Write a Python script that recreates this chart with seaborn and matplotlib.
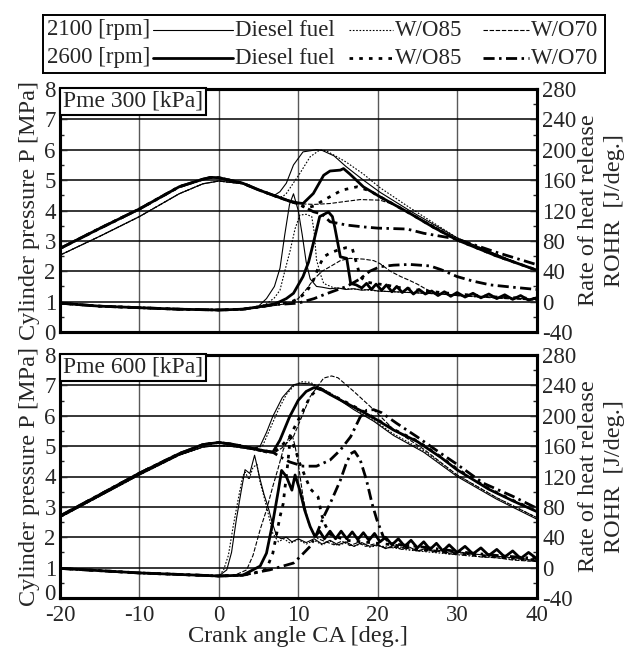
import matplotlib
matplotlib.use('Agg')
import matplotlib.pyplot as plt
import matplotlib.transforms as mtransforms
import seaborn as sns
from matplotlib.ticker import MultipleLocator

# ---------------- data ----------------
# Pme 300 kPa : cylinder pressure [MPa]
mot21_300_ca = [-20, -15, -10, -5, -2, 0, 3, 5, 7]
mot21_300_p = [2.53, 3.15, 3.80, 4.55, 4.88, 4.97, 4.88, 4.68, 4.50]
mot26_300_ca = [-20, -15, -10, -5, -2, -1, 0, 3, 5, 7.7, 9]
mot26_300_p = [2.75, 3.41, 4.05, 4.78, 5.03, 5.09, 5.08, 4.90, 4.68, 4.42, 4.30]

p21d_300_ca = [7.7, 8.5, 9.4, 10.6, 12.3, 13.0, 14.5, 16, 18.2, 20.3, 24, 27, 30, 35, 40]
p21d_300 = [4.62, 4.90, 5.50, 5.93, 6.00, 5.98, 5.80, 5.45, 5.00, 4.60, 4.00, 3.55, 3.10, 2.55, 2.00]
p21w85_300_ca = [8.0, 8.5, 10.2, 11.5, 12.7, 13.5, 16, 18.2, 20.3, 24, 27, 30, 35, 40]
p21w85_300 = [4.45, 4.56, 5.22, 5.77, 5.99, 5.97, 5.60, 5.20, 4.75, 4.10, 3.60, 3.10, 2.55, 2.02]
p21w70_300_ca = [8.5, 10.3, 12, 14, 16, 17.8, 20.3, 22, 23.7, 27, 30, 35, 40]
p21w70_300 = [4.35, 4.22, 4.20, 4.23, 4.30, 4.36, 4.34, 4.20, 3.96, 3.50, 3.05, 2.55, 2.02]

p26d_300_ca = [10, 10.6, 11.9, 13.2, 14.0, 15.3, 15.7, 16.5, 18.2, 20.3, 24.1, 27, 30, 35, 40]
p26d_300 = [4.25, 4.23, 4.56, 5.16, 5.30, 5.33, 5.38, 5.20, 4.78, 4.45, 3.90, 3.45, 3.03, 2.50, 2.04]
p26w85_300_ca = [10, 11, 12, 13.2, 15.5, 17.4, 19, 20.3, 24.1, 27, 30, 35, 40]
p26w85_300 = [4.22, 4.08, 4.15, 4.34, 4.67, 4.78, 4.65, 4.45, 3.90, 3.45, 3.03, 2.50, 2.04]
p26w70_300_ca = [10, 11.9, 13, 14, 16.1, 18.2, 20, 23.7, 25.8, 28, 30, 35, 40]
p26w70_300 = [4.22, 3.96, 3.88, 3.63, 3.52, 3.46, 3.42, 3.39, 3.25, 3.15, 3.06, 2.62, 2.22]

# Pme 300 kPa : ROHR [J/deg.]
r21d_300_ca = [-20, -15, -10, -5, 0, 3, 5, 6, 7, 7.7, 8.3, 8.9, 9.4, 10.0, 10.5, 11.0, 11.5, 12.3, 13, 14,
               15, 16, 17, 18, 19, 20, 22, 24, 26, 28, 30, 33, 36, 40]
r21d_300 = [-2, -6, -8, -10, -11, -10, -6, 4, 20, 44, 88, 128, 142, 120, 88, 52, 30, 20, 19, 17,
            18, 16, 17, 15, 16, 14, 13, 12, 11, 10, 8, 7, 5, 3]
r21w85_300_ca = [-20, -15, -10, -5, 0, 3, 5, 6, 7, 7.7, 8.3, 9.0, 9.6, 10.2, 11.0, 11.7, 12.0, 12.3, 12.8,
                 13.2, 14.5, 16, 18, 20, 22, 24, 26, 28, 30, 33, 36, 40]
r21w85_300 = [-2, -6, -8, -10, -11, -10, -7, -3, 5, 15, 40, 68, 96, 114, 115, 112, 92, 55, 36,
              24, 18, 17, 16, 14, 13, 12, 11, 10, 8, 6, 5, 3]
r21w70_300_ca = [-20, -15, -10, -5, 0, 3, 5, 7, 9, 10, 11, 12, 13, 14, 15.3, 16.5, 18.2, 19.5, 20.3, 21.6,
                 22.9, 24, 25, 26, 27, 28, 30, 33, 36, 40]
r21w70_300 = [-2, -6, -8, -10, -11, -10, -8, -5, -2, 4, 16, 30, 40, 46, 54, 57, 56, 54, 50, 40,
              33, 28, 23, 17, 12, 10, 8, 6, 4, 2]
r26d_300_ca = [-20, -15, -10, -5, 0, 3, 5, 7, 7.7, 8.5, 9.4, 10.6, 11.3, 11.9, 12.7, 13.8, 14.3, 14.6, 15.0,
               15.3, 16.1, 16.6, 17.3, 18, 18.6, 19.2, 19.8, 20.5, 21.1, 21.8, 22.4, 23.1, 23.8, 24.5,
               25.2, 26, 26.8, 27.6, 28.4, 29.2, 30, 31, 32, 33, 34, 35, 36, 37, 38, 39, 40]
r26d_300 = [-2, -6, -8, -10, -11, -10, -7, -3, 0, 4, 11, 33, 52, 77, 112, 118, 112, 98, 76,
            59, 57, 24, 22, 18, 24, 16, 23, 15, 22, 13, 20, 12, 18, 10,
            16, 10, 14, 8, 13, 7, 12, 6, 11, 5, 10, 4, 9, 3, 8, 2, 5]
r26w85_300_ca = [-20, -15, -10, -5, 0, 3, 5, 7, 9, 10, 11, 11.9, 12.5, 13.2, 14, 15, 16, 16.8, 17.3,
                 17.8, 18.5, 19.5, 21, 23, 26, 30, 35, 40]
r26w85_300 = [-2, -6, -8, -10, -11, -10, -7, -4, -1, 4, 12, 28, 44, 59, 64, 68, 71, 70, 52,
              33, 26, 24, 22, 18, 14, 10, 6, 4]
r26w70_300_ca = [-20, -15, -10, -5, 0, 3, 5, 7, 10, 12, 13.2, 14.5, 16.1, 17.8, 19, 20.3, 22, 24, 26.6,
                 28, 30, 32, 34.2, 37, 40]
r26w70_300 = [-2, -6, -8, -10, -11, -10, -7, -4, -2, 4, 9, 14, 20, 30, 40, 46, 48, 49, 47,
              42, 33, 27, 22, 19, 16]

# Pme 600 kPa : cylinder pressure [MPa]
mot21_600_ca = [-20, -15, -10, -5, -2, 0, 2, 4]
mot21_600_p = [2.65, 3.35, 4.05, 4.70, 4.97, 5.02, 4.98, 4.90]
mot26_600_ca = [-20, -15, -10, -5, -2, 0, 2, 5, 6.8]
mot26_600_p = [2.70, 3.40, 4.11, 4.75, 5.05, 5.12, 5.05, 4.88, 4.80]

p21d_600_ca = [5.2, 6, 6.8, 8, 9.4, 10.2, 11.5, 13, 15, 17, 19.5, 22, 25.8, 30, 35, 40]
p21d_600 = [5.00, 5.45, 5.98, 6.60, 7.02, 7.07, 7.05, 6.90, 6.55, 6.20, 5.82, 5.35, 4.80, 4.00, 3.25, 2.60]
p21w85_600_ca = [5.5, 6.5, 7.5, 8.5, 9.5, 10.5, 11.5, 13, 15, 17, 19.5, 22, 25.8, 30, 35, 40]
p21w85_600 = [5.00, 5.60, 6.20, 6.70, 7.00, 7.12, 7.10, 6.90, 6.60, 6.25, 5.85, 5.40, 4.85, 4.05, 3.30, 2.65]
p21w70_600_ca = [6, 7, 8, 9.4, 10.5, 11.5, 13.2, 14.2, 15, 17, 19.5, 22, 25.8, 30, 35, 40]
p21w70_600 = [4.78, 4.78, 4.95, 5.32, 6.00, 6.63, 7.24, 7.31, 7.25, 6.80, 6.20, 5.55, 4.90, 4.05, 3.30, 2.65]

p26d_600_ca = [7.7, 8.9, 10, 11, 12, 13, 14, 16, 18, 20, 22, 25, 28, 30, 34, 37, 40]
p26d_600 = [5.20, 5.96, 6.51, 6.80, 6.93, 6.85, 6.70, 6.42, 6.15, 5.85, 5.53, 5.15, 4.62, 4.22, 3.58, 3.20, 2.85]
p26w85_600_ca = [7.7, 8.9, 10.2, 11.5, 12.5, 13.5, 14, 16, 18, 20, 22, 25, 28, 30, 34, 37, 40]
p26w85_600 = [4.95, 5.30, 5.96, 6.63, 6.90, 6.80, 6.72, 6.45, 6.17, 5.87, 5.55, 5.17, 4.64, 4.25, 3.60, 3.22, 2.87]
p26w70_600_ca = [7.7, 8.9, 10.6, 12.3, 14, 15.3, 16.6, 17.8, 18.6, 19.5, 20.5, 22.4, 25, 27.9, 30, 33.3, 37, 40]
p26w70_600 = [4.65, 4.48, 4.34, 4.34, 4.54, 4.87, 5.31, 5.96, 6.18, 6.20, 6.10, 5.75, 5.30, 4.77, 4.40, 3.78, 3.35, 2.96]

# Pme 600 kPa : ROHR [J/deg.]
r21d_600_ca = [-20, -15, -10, -5, 0, 1.0, 1.6, 2.2, 2.8, 3.3, 3.9, 4.5, 5.2, 5.7, 6.2, 6.7, 7.3, 7.9, 8.5, 9.2,
               10, 11, 12, 13, 14, 15, 16, 17, 18, 19, 20, 21, 22, 23, 24, 25, 26, 27, 28, 29, 30, 32, 34,
               36, 38, 40]
r21d_600 = [-1, -4, -7, -9, -11, -3, 20, 63, 100, 129, 124, 148, 116, 96, 80, 60, 41, 38, 40, 34,
            38, 33, 38, 31, 36, 30, 34, 28, 33, 28, 30, 25, 29, 24, 27, 22, 25, 21, 23, 19, 21, 18, 16,
            14, 12, 9]
r21w85_600_ca = [-20, -15, -10, -5, 0, 0.6, 1.2, 1.8, 2.4, 3.0, 3.3, 3.8, 4.3, 4.8, 5.2, 5.6, 6.2, 6.8, 7.5,
                 8.2, 9, 10, 11, 12, 13, 14, 15, 16, 17, 18, 19, 20, 22, 24, 26, 28, 30, 32, 34, 36, 38, 40]
r21w85_600 = [-1, -4, -7, -9, -11, -3, 16, 54, 88, 120, 126, 116, 132, 136, 112, 97, 72, 45, 34,
              38, 32, 37, 31, 36, 30, 35, 29, 33, 28, 32, 27, 29, 26, 23, 21, 19, 17, 15, 14, 12, 10, 8]
r21w70_600_ca = [-20, -15, -10, -5, 0, 2, 3.5, 4.3, 5.2, 6.0, 6.8, 7.5, 8.1, 8.9, 9.3, 9.6, 10.0, 10.6, 11.3,
                 11.9, 12.5, 13.5, 14.5, 15.5, 16.5, 17.5, 18.5, 19.5, 21, 23, 25, 27, 29, 31, 33, 35, 37, 40]
r21w70_600 = [-1, -4, -7, -9, -11, -10, -3, 16, 50, 76, 107, 132, 155, 173, 172, 160, 137, 93, 58,
              45, 38, 34, 30, 35, 29, 33, 28, 31, 26, 27, 22, 23, 18, 18, 14, 13, 10, 8]
r26d_600_ca = [-20, -15, -10, -5, 0, 3, 5.2, 6.0, 6.8, 7.5, 7.9, 8.5, 9.2, 9.6, 10.2, 10.8, 11.5, 12.1, 12.7,
               13.3, 14.0, 14.7, 15.4, 16.1, 16.8, 17.5, 18.2, 18.9, 19.6, 20.3, 21.0, 21.8, 22.6, 23.4,
               24.2, 25.0, 25.8, 26.6, 27.4, 28.2, 29.0, 30, 31, 32, 33, 34, 35, 36, 37, 38, 39, 40]
r26d_600 = [-1, -4, -7, -9, -11, -10, 2, 19, 60, 102, 128, 120, 102, 122, 102, 76, 54, 41, 48,
            38, 48, 38, 48, 38, 47, 37, 46, 36, 45, 34, 40, 30, 38, 28,
            36, 26, 34, 24, 32, 22, 30, 20, 28, 18, 26, 16, 24, 14, 22, 12, 20, 12]
r26w85_600_ca = [-20, -15, -10, -5, 0, 3, 5, 6, 6.8, 7.7, 8.1, 8.7, 9.0, 9.3, 9.8, 10.2, 11.5, 12.5, 12.9,
                 13.4, 14, 15, 16, 18, 20, 22, 25, 28, 30, 35, 40]
r26w85_600 = [-1, -4, -7, -9, -11, -10, -6, -2, 19, 67, 84, 139, 172, 164, 150, 137, 104, 93, 71,
              56, 44, 40, 36, 34, 32, 30, 24, 21, 18, 14, 10]
r26w70_600_ca = [-20, -15, -10, -5, 0, 3, 4.3, 6.4, 9.4, 10.2, 11.5, 12.3, 13.2, 14.0, 15.3, 16.0, 16.6,
                 17.1, 17.8, 18.6, 19.3, 19.9, 20.7, 21.6, 23, 25, 28, 31, 35, 40]
r26w70_600 = [-1, -4, -7, -9, -11, -10, -7, -3, 6, 14, 28, 44, 67, 84, 115, 136, 150,
              153, 142, 115, 84, 63, 41, 32, 30, 28, 24, 20, 16, 12]

legend_rpm = ['2100 [rpm]', '2600 [rpm]']
legend_fuels = ['Diesel fuel', 'W/O85', 'W/O70']
panel_labels = ['Pme 300 [kPa]', 'Pme 600 [kPa]']

# ---------------- style ----------------
sns.set_style('white')
plt.rcParams['font.family'] = ['Liberation Serif', 'DejaVu Serif']
plt.rcParams['axes.unicode_minus'] = False

THIN, THICK = 0.8, 2.0
styles = {
    'd21': dict(linewidth=THIN, linestyle='-'),
    'w85_21': dict(linewidth=THIN, linestyle=(0, (1.5, 1.5))),
    'w70_21': dict(linewidth=THIN, linestyle=(0, (4, 1.5))),
    'd26': dict(linewidth=THICK, linestyle='-'),
    'w85_26': dict(linewidth=THICK, linestyle=(0, (1.3, 2.2))),
    'w70_26': dict(linewidth=THICK, linestyle=(0, (4, 1.6, 0.9, 1.6))),
}


def draw(ax, ca, vals, key):
    sns.lineplot(x=ca, y=vals, ax=ax, color='black', sort=False, errorbar=None,
                 legend=False, **styles[key])


def setup(ax, ax2, label, bottom):
    ax.set_xlim(-20, 40)
    ax.set_ylim(0, 8)
    ax2.set_ylim(-40, 280)
    ax.set_xticks(range(-20, 41, 10))
    ax.xaxis.set_minor_locator(MultipleLocator(5))
    ax.set_yticks(range(0, 9))
    ax.yaxis.set_minor_locator(MultipleLocator(0.5))
    ax2.set_yticks(range(-40, 281, 40))
    ax2.yaxis.set_minor_locator(MultipleLocator(20))
    ax.xaxis.grid(True, color='0.35', lw=1.0)
    ax.yaxis.grid(True, color='black', lw=1.1)
    ax.set_axisbelow(True)
    ax.tick_params(which='both', direction='in', labelsize=16.5, width=1, top=False, right=False)
    ax.tick_params(which='major', length=5)
    ax.tick_params(which='minor', length=3)
    ax.tick_params(axis='y', pad=3)
    ax.tick_params(axis='x', pad=5)
    ax2.tick_params(which='both', direction='in', labelsize=16.5, width=1, pad=4)
    ax2.tick_params(which='major', length=5)
    ax2.tick_params(which='minor', length=3)
    for a in (ax, ax2):
        for s in a.spines.values():
            s.set_linewidth(2.2)
            s.set_color('black')
    ax.set_ylabel('Cylinder pressure P [MPa]', fontsize=17.5, labelpad=3)
    ax2.set_ylabel('Rate of heat release\nROHR  [J/deg.]', fontsize=17.5, labelpad=1,
                   linespacing=1.35, multialignment='center')
    ax2.text(0.006, 0.993, label, transform=ax2.transAxes, ha='left', va='top', fontsize=17,
             zorder=10, bbox=dict(boxstyle='square,pad=0.12', fc='white', ec='black', lw=1.5))
    if bottom:
        ax.set_xlabel('Crank angle CA [deg.]', fontsize=17.5, labelpad=0)
        # lift the lowest pressure label a little so it clears the "-20" below it
        lift = mtransforms.ScaledTranslation(0, 6 / 100, fig.dpi_scale_trans)
        lab = ax.get_yticklabels()[0]
        lab.set_transform(lab.get_transform() + lift)
    else:
        ax.tick_params(axis='x', labelbottom=False)
        ax.set_xlabel('')


fig = plt.figure(figsize=(6.32, 6.49), dpi=100)
ax_top = fig.add_axes([60 / 632, 1 - 332 / 649, 476.5 / 632, 243 / 649])
ax_bot = fig.add_axes([60 / 632, 1 - 598 / 649, 476.5 / 632, 243 / 649])
ax_top2 = ax_top.twinx()
ax_bot2 = ax_bot.twinx()

# ---- Pme 300 ----
draw(ax_top, mot21_300_ca + p21d_300_ca, mot21_300_p + p21d_300, 'd21')
draw(ax_top, mot21_300_ca + p21w85_300_ca, mot21_300_p + p21w85_300, 'w85_21')
draw(ax_top, mot21_300_ca + p21w70_300_ca, mot21_300_p + p21w70_300, 'w70_21')
draw(ax_top, mot26_300_ca + p26d_300_ca, mot26_300_p + p26d_300, 'd26')
draw(ax_top, mot26_300_ca + p26w85_300_ca, mot26_300_p + p26w85_300, 'w85_26')
draw(ax_top, mot26_300_ca + p26w70_300_ca, mot26_300_p + p26w70_300, 'w70_26')
draw(ax_top2, r21d_300_ca, r21d_300, 'd21')
draw(ax_top2, r21w85_300_ca, r21w85_300, 'w85_21')
draw(ax_top2, r21w70_300_ca, r21w70_300, 'w70_21')
draw(ax_top2, r26d_300_ca, r26d_300, 'd26')
draw(ax_top2, r26w85_300_ca, r26w85_300, 'w85_26')
draw(ax_top2, r26w70_300_ca, r26w70_300, 'w70_26')

# ---- Pme 600 ----
draw(ax_bot, mot21_600_ca + p21d_600_ca, mot21_600_p + p21d_600, 'd21')
draw(ax_bot, mot21_600_ca + p21w85_600_ca, mot21_600_p + p21w85_600, 'w85_21')
draw(ax_bot, mot21_600_ca + p21w70_600_ca, mot21_600_p + p21w70_600, 'w70_21')
draw(ax_bot, mot26_600_ca + p26d_600_ca, mot26_600_p + p26d_600, 'd26')
draw(ax_bot, mot26_600_ca + p26w85_600_ca, mot26_600_p + p26w85_600, 'w85_26')
draw(ax_bot, mot26_600_ca + p26w70_600_ca, mot26_600_p + p26w70_600, 'w70_26')
draw(ax_bot2, r21d_600_ca, r21d_600, 'd21')
draw(ax_bot2, r21w85_600_ca, r21w85_600, 'w85_21')
draw(ax_bot2, r21w70_600_ca, r21w70_600, 'w70_21')
draw(ax_bot2, r26d_600_ca, r26d_600, 'd26')
draw(ax_bot2, r26w85_600_ca, r26w85_600, 'w85_26')
draw(ax_bot2, r26w70_600_ca, r26w70_600, 'w70_26')

setup(ax_top, ax_top2, panel_labels[0], False)
setup(ax_bot, ax_bot2, panel_labels[1], True)

# ---- legend box at the top ----
leg = fig.add_axes([43 / 632, 1 - 73 / 649, 562 / 632, 58 / 649])
leg.set_xlim(0, 562)
leg.set_ylim(0, 58)
leg.set_xticks([])
leg.set_yticks([])
for s in leg.spines.values():
    s.set_linewidth(1.4)
    s.set_color('black')
row_y = [43, 15]
row_keys = [['d21', 'w85_21', 'w70_21'], ['d26', 'w85_26', 'w70_26']]
handle_x = [(110, 190), (306, 350), (440, 486)]
text_x = [192, 352, 488]
for r in range(2):
    y = row_y[r]
    leg.text(4, y, legend_rpm[r], fontsize=16.5, ha='left', va='center')
    for k in range(3):
        leg.plot(handle_x[k], [y, y], color='black', **styles[row_keys[r][k]])
        leg.text(text_x[k], y, legend_fuels[k], fontsize=16.5, ha='left', va='center')

fig.savefig('out.png', dpi=100)
